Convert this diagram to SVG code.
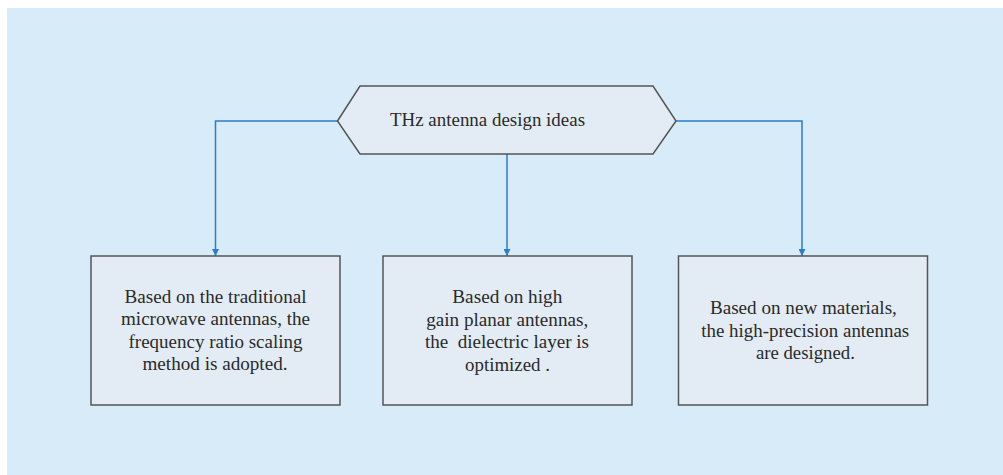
<svg xmlns="http://www.w3.org/2000/svg" width="1003" height="475" viewBox="0 0 1003 475">
<style>
.node{fill:#e3ecf4;stroke:#555;stroke-width:1.5}
.t{font-family:'Liberation Serif','Times New Roman',serif;font-size:18px;fill:#2a2a2a;text-anchor:middle;white-space:pre}
.c{fill:none;stroke:#2a7fc9;stroke-width:1.5}
</style>
<defs>
<marker id="ah" viewBox="0 0 10 10" refX="10" refY="5" markerWidth="7" markerHeight="7" markerUnits="userSpaceOnUse" orient="auto">
<path d="M0,0 L10,5 L0,10 z" fill="#2a7fc9"/>
</marker>
</defs>
<rect x="0" y="0" width="1003" height="475" fill="#fff"/>
<rect x="7" y="8" width="996" height="467" fill="#d7ebf8"/>
<g id="connectors">
<path class="c" d="M338,121 H215.5 V256" marker-end="url(#ah)"/>
<path class="c" d="M507,154 V256" marker-end="url(#ah)"/>
<path class="c" d="M676,121 H802 V256" marker-end="url(#ah)"/>
</g>
<g id="root">
<polygon class="node" points="337.5,121 360,86 653,86 676,121 653,154 360,154"/>
<text class="t" x="487.5" y="126" textLength="195" lengthAdjust="spacingAndGlyphs">THz antenna design ideas</text>
</g>
<g id="box1">
<rect class="node" x="91" y="256" width="249" height="149"/>
<text class="t" x="215.5" y="303.3" textLength="182" lengthAdjust="spacingAndGlyphs">Based on the traditional</text>
<text class="t" x="215.5" y="325.3" textLength="189" lengthAdjust="spacingAndGlyphs">microwave antennas, the</text>
<text class="t" x="215.5" y="348.3" textLength="174" lengthAdjust="spacingAndGlyphs">frequency ratio scaling</text>
<text class="t" x="215" y="370.3" textLength="145" lengthAdjust="spacingAndGlyphs">method is adopted.</text>
</g>
<g id="box2">
<rect class="node" x="383" y="256" width="249" height="149"/>
<text class="t" x="507.3" y="303.3" textLength="110" lengthAdjust="spacingAndGlyphs">Based on high</text>
<text class="t" x="507.2" y="325.5" textLength="162" lengthAdjust="spacingAndGlyphs">gain planar antennas,</text>
<text class="t" x="507" y="348.3" textLength="164" lengthAdjust="spacingAndGlyphs" xml:space="preserve">the  dielectric layer is</text>
<text class="t" x="507.5" y="370.5" textLength="85" lengthAdjust="spacingAndGlyphs">optimized .</text>
</g>
<g id="box3">
<rect class="node" x="678.5" y="256" width="249" height="149"/>
<text class="t" x="803.4" y="314" textLength="187" lengthAdjust="spacingAndGlyphs">Based on new materials,</text>
<text class="t" x="805.2" y="336.7" textLength="208" lengthAdjust="spacingAndGlyphs">the high-precision antennas</text>
<text class="t" x="805.4" y="359.3" textLength="99" lengthAdjust="spacingAndGlyphs">are designed.</text>
</g>
</svg>
